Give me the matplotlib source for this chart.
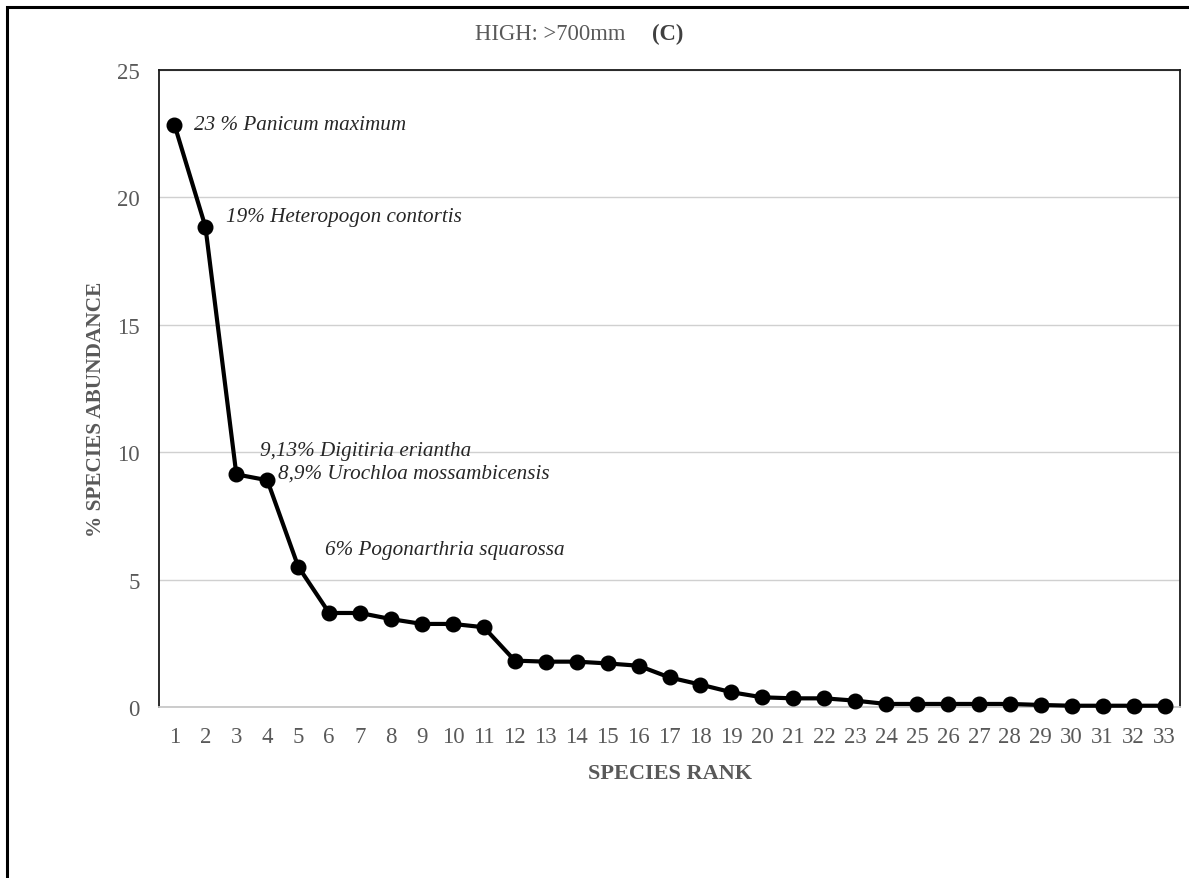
import matplotlib
matplotlib.use("Agg")
import matplotlib.pyplot as plt
from matplotlib.patches import Rectangle

# Rank-abundance data, high rainfall sites (>700 mm)
species_rank = list(range(1, 34))
abundance_pct = [22.85, 18.85, 9.13, 8.9, 5.51, 3.69, 3.69, 3.45, 3.26, 3.26,
                 3.13, 1.82, 1.78, 1.78, 1.71, 1.62, 1.16, 0.88, 0.58, 0.38,
                 0.34, 0.34, 0.25, 0.12, 0.12, 0.12, 0.12, 0.12, 0.08, 0.05,
                 0.05, 0.05, 0.05]

# Dominant species labelled on the curve
labelled_ranks = [1, 2, 3, 4, 5]
labelled_names = ["Panicum maximum", "Heteropogon contortis", "Digitiria eriantha",
                  "Urochloa mossambicensis", "Pogonarthria squarossa"]
label_decimals = [0, 0, 2, 1, 0]
label_space = [" ", "", "", "", ""]
label_offsets = [(14, 0), (15, 7), (17, 17), (8, 5), (19, 12)]  # points

y_ticks = [0, 5, 10, 15, 20, 25]

SERIF = "Liberation Serif"
TICK_GRAY = "#595959"

fig = plt.figure(figsize=(11.89, 8.79), dpi=100)
ax = fig.add_axes([159 / 1189, 1 - 708 / 879, (1180 - 159) / 1189, (708 - 71) / 879])

ax.plot(species_rank, abundance_pct, color="black", linewidth=3.0,
        marker="o", markersize=10.5, markerfacecolor="black",
        markeredgecolor="black", zorder=3, clip_on=False)

for rank, name, dec, sp, off in zip(labelled_ranks, labelled_names,
                                     label_decimals, label_space, label_offsets):
    val = abundance_pct[rank - 1]
    pct = f"{val:.{dec}f}".replace(".", ",")
    ax.annotate(f"{pct}{sp}% {name}", xy=(rank, val), xytext=off,
                textcoords="offset points", ha="left", va="center",
                fontsize=15.2, fontstyle="italic", family=SERIF, color="#262626")

ax.set_xlim(0.5, 33.5)
ax.set_ylim(0, 25)
ax.set_xticks(species_rank)
ax.set_xticklabels([str(r) for r in species_rank])
ax.set_yticks(y_ticks)
ax.set_yticklabels([str(t) for t in y_ticks])
ax.tick_params(axis="both", length=0, labelsize=16.5, labelcolor=TICK_GRAY)
ax.tick_params(axis="x", pad=14)
ax.tick_params(axis="y", pad=14)
for lbl in ax.get_xticklabels() + ax.get_yticklabels():
    lbl.set_family(SERIF)

ax.yaxis.grid(True, color="#d0d0d0", linewidth=1.0)
ax.set_axisbelow(True)

for side in ("left", "top", "right"):
    ax.spines[side].set_color("#1a1a1a")
    ax.spines[side].set_linewidth(1.3)
ax.spines["bottom"].set_color("#c8c8c8")
ax.spines["bottom"].set_linewidth(1.3)

ax.set_xlabel("SPECIES RANK", family=SERIF, fontsize=16, fontweight="bold",
              color=TICK_GRAY)
ax.set_ylabel("% SPECIES ABUNDANCE", family=SERIF, fontsize=15.3,
              fontweight="bold", color=TICK_GRAY)
ax.xaxis.set_label_coords(0.5, -0.088)
ax.yaxis.set_label_coords(-0.052, 0.469)

fig.text(475 / 1189, 1 - 34 / 879, "HIGH: >700mm", family=SERIF, fontsize=16.3,
         color=TICK_GRAY, ha="left", va="center")
fig.text(652 / 1189, 1 - 34 / 879, "(C)", family=SERIF, fontsize=16.3,
         fontweight="bold", color="#404040", ha="left", va="center")

# Outer chart frame
fig.add_artist(Rectangle((7 / 1189, -0.1), 1.2, 1.1 - 8 / 879,
                         transform=fig.transFigure, fill=False,
                         edgecolor="black", linewidth=2.2))

fig.savefig("out.png", dpi=100, facecolor="white")
